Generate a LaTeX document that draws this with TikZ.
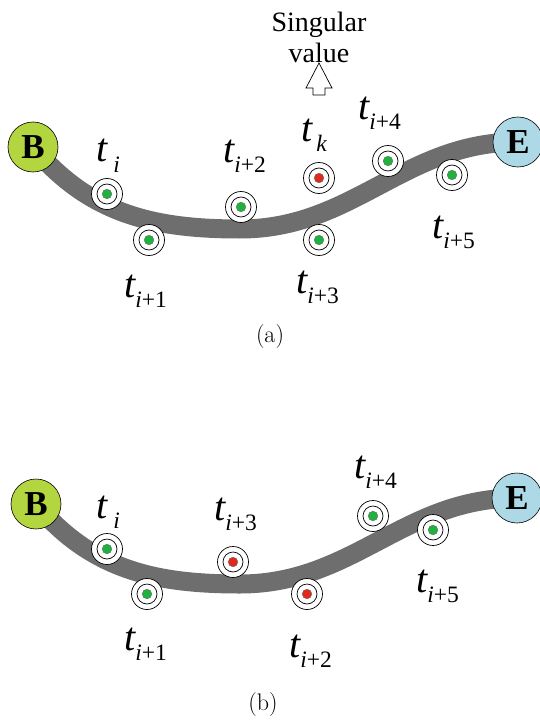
\documentclass[tikz,border=0pt]{standalone}
\usepackage{xcolor}
\usepackage{fontspec}
\usetikzlibrary{backgrounds}
\newfontfamily\labfont{Liberation Serif}
\definecolor{roadgray}{HTML}{6E6E6E}
\definecolor{bgreen}{HTML}{B3D53F}
\definecolor{eblue}{HTML}{ADD8E6}
\definecolor{dotgreen}{HTML}{1DB33C}
\definecolor{dotred}{HTML}{E02A1D}
\newcommand{\tlab}[2][0pt]{{\labfont\fontsize{40}{40}\selectfont\itshape t}\kern#1\raisebox{-10pt}{\labfont\fontsize{23.5}{23.5}\selectfont #2}}

\begin{document}
\begin{tikzpicture}[x=1pt, y=-1pt,
  endpt/.style={circle, draw, line width=0.6pt, minimum size=50pt, inner sep=0pt,
    font=\labfont\bfseries\fontsize{35}{35}\selectfont},
  target/.style={circle, draw, fill=white, line width=0.7pt, minimum size=31pt, inner sep=0pt,
    path picture={\draw[line width=0.7pt] (path picture bounding box.center) circle (10pt);
      \filldraw[fill=#1, draw=black!60, line width=0.4pt] (path picture bounding box.center) circle (4.8pt);}},
  tlabel/.style={anchor=base west, inner sep=0pt},
  road/.style={draw=roadgray, line width=19pt}]
  \useasboundingbox (0,0) rectangle (540,722);

  % (a)
  \node (Ba) [endpt, fill=bgreen] at (33,147) {B};
  \node (Ea) [endpt, fill=eblue] at (518,142) {E};
  \coordinate (ma) at (240,229);
  \begin{pgfonlayer}{background}
    \draw[road] (Ba.center) to[out=-50, in=180] (ma) to[out=0, in=180] (Ea.center);
  \end{pgfonlayer}

  \node (ta0) [target=dotgreen] at (107,194) {};
  \node (ta1) [target=dotgreen] at (149,240) {};
  \node (ta2) [target=dotgreen] at (241,207) {};
  \node (tak) [target=dotred] at (319,178) {};
  \node (ta3) [target=dotgreen] at (319,240) {};
  \node (ta4) [target=dotgreen] at (388,161) {};
  \node (ta5) [target=dotgreen] at (452,175) {};

  \node (la0) [tlabel] at (96,162) {\tlab[6pt]{\textit{i}}};
  \node (la1) [tlabel] at (124,297) {\tlab{\textit{i}+1}};
  \node (la2) [tlabel] at (223,163) {\tlab{\textit{i}+2}};
  \node (lak) [tlabel] at (301,142) {\tlab[4pt]{\textit{k}}};
  \node (la3) [tlabel] at (296,293) {\tlab{\textit{i}+3}};
  \node (la4) [tlabel] at (358,120) {\tlab{\textit{i}+4}};
  \node (la5) [tlabel] at (432,238) {\tlab{\textit{i}+5}};

  \node (sv) [align=center, inner sep=0pt, font=\labfont\fontsize{28}{31}\selectfont] at (319,37) {Singular\\value};
  \draw[fill=white, line width=0.7pt] (313,95) -- (313,88) -- (306,88) -- (319,63)
    -- (332,88) -- (325,88) -- (325,95) -- cycle;

  \node (capa) [font=\fontsize{24}{24}\selectfont] at (270,337) {(a)};

  % (b)
  \node (Bb) [endpt, fill=bgreen] at (36,504) {B};
  \node (Eb) [endpt, fill=eblue] at (517,498) {E};
  \coordinate (mb) at (240,584);
  \begin{pgfonlayer}{background}
    \draw[road] (Bb.center) to[out=-50, in=180] (mb) to[out=0, in=180] (Eb.center);
  \end{pgfonlayer}

  \node (tb0) [target=dotgreen] at (107,549) {};
  \node (tb1) [target=dotgreen] at (147,594) {};
  \node (tb3) [target=dotred] at (233,562) {};
  \node (tb2) [target=dotred] at (307,594) {};
  \node (tb4) [target=dotgreen] at (373,516) {};
  \node (tb5) [target=dotgreen] at (433,530) {};

  \node (lb0) [tlabel] at (96,518) {\tlab[6pt]{\textit{i}}};
  \node (lb1) [tlabel] at (124,650) {\tlab{\textit{i}+1}};
  \node (lb3) [tlabel] at (214,520) {\tlab{\textit{i}+3}};
  \node (lb2) [tlabel] at (289,657) {\tlab{\textit{i}+2}};
  \node (lb4) [tlabel] at (354,478) {\tlab{\textit{i}+4}};
  \node (lb5) [tlabel] at (416,592) {\tlab{\textit{i}+5}};

  \node (capb) [font=\fontsize{24}{24}\selectfont] at (263,705) {(b)};
\end{tikzpicture}
\end{document}
